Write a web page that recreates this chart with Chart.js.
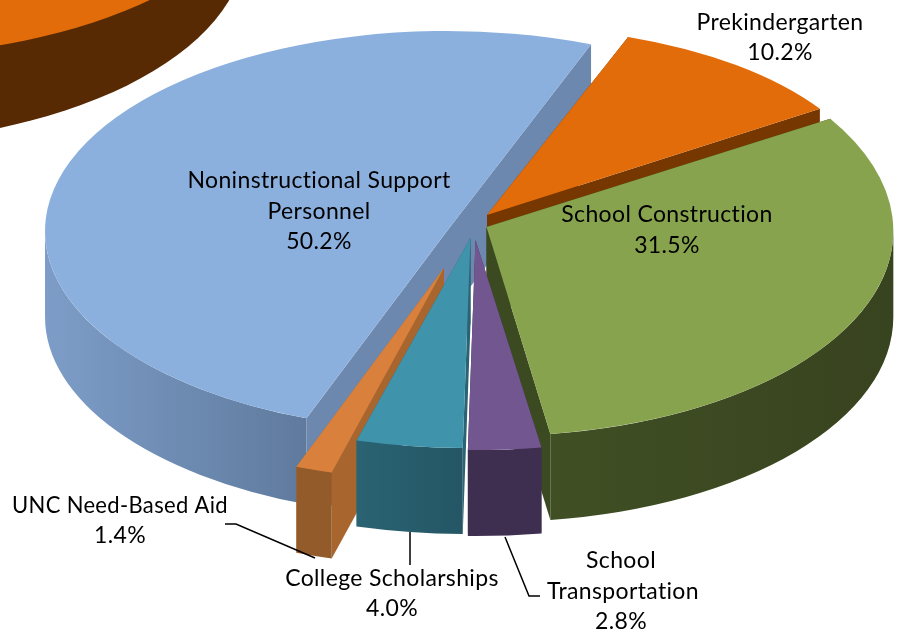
<!DOCTYPE html>
<html>
<head>
<meta charset="utf-8">
<style>
  html, body { margin: 0; padding: 0; background: #fff; }
  #wrap { width: 902px; height: 630px; }
</style>
<script src="https://cdn.jsdelivr.net/npm/chart.js@4"></script>
</head>
<body>
<div id="wrap"><canvas id="pie" width="902" height="630"></canvas></div>
<script>
const categories = ['Prekindergarten', 'School Construction', 'School Transportation', 'College Scholarships', 'UNC Need-Based Aid', 'Noninstructional Support Personnel'];
const shares = [10.2, 31.5, 2.8, 4.0, 1.4, 50.2];

const topColors = ['#e26c09', '#88a34e', '#72568f', '#3f93ab', '#d9813c', '#8cb0de'];
const edgeColors = ['#763700', '#3c4a22', '#3e2f50', '#2a6373', '#a8652e', '#6d88ae'];
const wallFrom = ['#763700', '#38431f', '#3e2f50', '#245665', '#935b2a', '#5f7a9d'];
const wallTo = ['#763700', '#404f24', '#3e2f50', '#2a6373', '#935b2a', '#7d9dc8'];

// how far each slice is pulled out of the pie, and how the perspective squeezes it
const explodeX = [12.5, 12, 1, -4, -30.5, -27.5];
const explodeY = [-10, 2, 15, 13, 43, 6];
const scaleX = [0.975, 1.007, 1.04, 1.06, 1.045, 0.995];
const scaleY = [0.466, 0.517, 0.52, 0.52, 0.525, 0.495];
const shear = [-0.0165, 0.01, 0, 0, 0, 0];
const paintOrder = [5, 0, 1, 4, 3, 2];

const RADIUS = 404;
const DEPTH = 86;
const ROTATION = 21;
const FONT = '23px Lato, "Open Sans", sans-serif';

// label text per slice, last line is the share
const labelLines = [
  [['Prekindergarten', 780, 23]],
  [['School Construction', 667, 215]],
  [['School', 621, 561], ['Transportation', 623, 592]],
  [['College Scholarships', 392, 579]],
  [['UNC Need-Based Aid', 120, 506, 216]],
  [['Noninstructional Support', 319, 181], ['Personnel', 319, 212]]
];
const pctPos = [[780, 53], [667, 246], [621, 622], [392, 609], [120, 536], [319, 242]];
const leaders = [
  [[225, 524], [236, 524], [315, 558]],
  [[410, 532], [410, 565]],
  [[505, 537], [529, 596], [540, 596]]
];

function drawStray(ctx, arc) {
  // the cut-off orange disc in the top left corner
  const rx = arc.outerRadius, ry = arc.outerRadius * 0.495;
  ctx.fillStyle = '#572a04';
  ctx.beginPath();
  ctx.ellipse(arc.x - 633, -56, rx, ry, 0, 0, Math.PI * 2);
  ctx.fill();
  ctx.fillStyle = topColors[0];
  ctx.beginPath();
  ctx.ellipse(arc.x - 605, -144, rx, ry, 0, 0, Math.PI * 2);
  ctx.fill();
}

function drawSlice(ctx, arc, i) {
  const rx = arc.outerRadius * scaleX[i];
  const ry = arc.outerRadius * scaleY[i];
  const px = (a) => Math.cos(a) * rx;
  const py = (a) => Math.sin(a) * ry;

  ctx.save();
  ctx.translate(arc.x + explodeX[i], arc.y + explodeY[i]);
  ctx.transform(1, shear[i], 0, 1, 0, 0);

  // flat cut faces
  ctx.fillStyle = edgeColors[i];
  [arc.startAngle, arc.endAngle].forEach((a) => {
    ctx.beginPath();
    ctx.moveTo(0, 0);
    ctx.lineTo(px(a), py(a));
    ctx.lineTo(px(a), py(a) + DEPTH);
    ctx.lineTo(0, DEPTH);
    ctx.closePath();
    ctx.fill();
  });

  // rounded outer wall, front half only
  const a0 = Math.max(arc.startAngle, 0);
  const a1 = Math.min(arc.endAngle, Math.PI);
  if (a1 > a0) {
    const g = ctx.createLinearGradient(px(a0), 0, px(a1), 0);
    g.addColorStop(0, wallFrom[i]);
    g.addColorStop(1, wallTo[i]);
    ctx.fillStyle = g;
    ctx.beginPath();
    ctx.ellipse(0, 0, rx, ry, 0, a0, a1);
    ctx.ellipse(0, DEPTH, rx, ry, 0, a1, a0, true);
    ctx.closePath();
    ctx.fill();
  }

  // top face is the library's own arc, squashed
  ctx.scale(scaleX[i], scaleY[i]);
  ctx.translate(-arc.x, -arc.y);
  arc.draw(ctx);
  ctx.restore();
}

const pie3d = {
  id: 'pie3d',
  beforeDatasetsDraw(chart) {
    const ctx = chart.ctx;
    const arcs = chart.getDatasetMeta(0).data;
    ctx.save();
    drawStray(ctx, arcs[0]);
    paintOrder.forEach((i) => drawSlice(ctx, arcs[i], i));
    ctx.restore();
    return false;
  },
  afterDraw(chart) {
    const ctx = chart.ctx;
    ctx.save();
    ctx.strokeStyle = '#000';
    ctx.lineWidth = 1.5;
    leaders.forEach((pts) => {
      ctx.beginPath();
      pts.forEach((p, n) => (n ? ctx.lineTo(p[0], p[1]) : ctx.moveTo(p[0], p[1])));
      ctx.stroke();
    });
    ctx.fillStyle = '#000';
    ctx.font = FONT;
    ctx.letterSpacing = '0.35px';
    ctx.textAlign = 'center';
    ctx.textBaseline = 'middle';
    labelLines.forEach((lines, i) => {
      lines.forEach((l) => ctx.fillText(l[0], l[1], l[2], l[3]));
      ctx.fillText(shares[i].toFixed(1) + '%', pctPos[i][0], pctPos[i][1]);
    });
    ctx.restore();
  }
};

new Chart(document.getElementById('pie'), {
  type: 'pie',
  data: {
    labels: categories,
    datasets: [{
      data: shares,
      backgroundColor: topColors,
      borderWidth: 0,
      radius: RADIUS
    }]
  },
  options: {
    responsive: true,
    maintainAspectRatio: false,
    animation: false,
    events: [],
    rotation: ROTATION,
    layout: { padding: { left: 47, bottom: 180 } },
    plugins: { legend: { display: false }, tooltip: { enabled: false } }
  },
  plugins: [pie3d]
});
</script>
</body>
</html>
